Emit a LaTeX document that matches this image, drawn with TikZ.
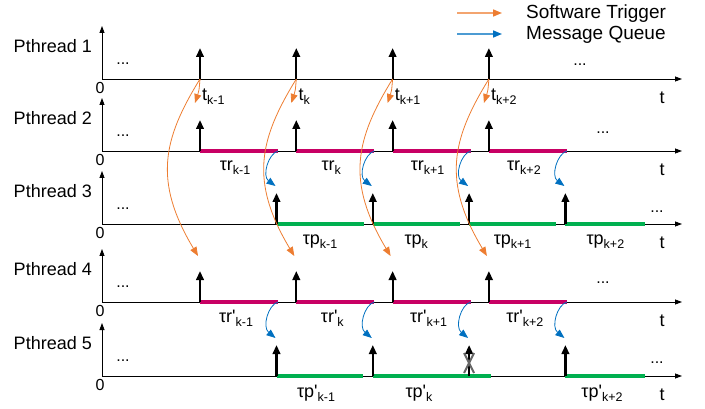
\documentclass[tikz,border=0pt]{standalone}
\usepackage{fontspec}
\setmainfont{Liberation Sans}
\usetikzlibrary{arrows.meta,calc}

\definecolor{trig}{RGB}{237,125,49}
\definecolor{queue}{RGB}{0,112,192}
\definecolor{recv}{RGB}{200,0,100}
\definecolor{proc}{RGB}{0,176,80}

\newcommand\lowidx[1]{\raisebox{-0.45ex}{\fontsize{12.5}{12.5}\selectfont #1}}

\tikzset{
	axis/.style={-{Triangle[length=7pt,width=5pt]}, line width=0.8pt},
	impulse/.style={-{Triangle[length=9pt,width=7.5pt]}, line width=2.2pt},
	trigger/.style={trig, line width=0.8pt, -{Triangle[length=9pt,width=7pt]}},
	mqueue/.style={queue, line width=0.8pt, -{Triangle[length=9pt,width=7pt]}},
	rbar/.style={recv, line width=3.5pt},
	pbar/.style={proc, line width=4pt},
	lbl/.style={inner sep=0pt, font=\fontsize{18}{20}\selectfont},
	sublbl/.style={inner sep=0pt, font=\fontsize{18}{20}\selectfont},
	dots/.style={inner sep=0pt, font=\fontsize{16}{18}\selectfont},
	xmark/.style={black!60, line width=2pt}
}

\begin{document}
\begin{tikzpicture}[x=1pt, y=-1pt]
	\useasboundingbox (0,0) rectangle (705,409);

	% legend
	\coordinate (l1) at (457,13);
	\coordinate (l2) at (502,13);
	\coordinate (l3) at (457,34);
	\coordinate (l4) at (502,34);
	\draw[trigger, trig!70, line width=1.6pt, -{Triangle[length=9pt,width=7pt,color=trig]}] (l1) -- (l2);
	\draw[mqueue, queue!70, line width=1.6pt, -{Triangle[length=9pt,width=7pt,color=queue]}] (l3) -- (l4);
	\node[lbl, font=\fontsize{19}{20}\selectfont, anchor=west] at (526,14) (leg1) {Software Trigger};
	\node[lbl, font=\fontsize{19}{20}\selectfont, anchor=west] at (526,35) (leg2) {Message Queue};

	% axes
	\foreach \n/\y in {1/79,2/151,3/224,4/302,5/376} {
		\coordinate (O\n) at (102,\y);
		\coordinate (X\n) at (682,\y);
		\coordinate (Y\n) at (102,\y-53);
		\draw[axis] (O\n) -- (X\n);
		\draw[axis] (O\n) -- (Y\n);
		\node[lbl, anchor=east] at (92,\y-33) (name\n) {Pthread \n};
		\node[lbl, font=\fontsize{16}{18}\selectfont, anchor=north] at (100,\y+3) (zero\n) {0};
		\node[lbl] at (662,\y+19) (t\n) {t};
		\node[dots] at (123,\y-15) (dl\n) {...};
	}
	\foreach \n/\x/\y in {1/580/65,2/603/133,3/657/212,4/603/283,5/657/363}
		\node[dots] at (\x,\y) (dr\n) {...};

	\foreach \i/\s/\pl in {0/{k-1}/87,1/k/87,2/{k+1}/87,3/{k+2}/80} {
		\pgfmathsetmacro\xa{200+96.3*\i}
		\pgfmathsetmacro\xb{276.5+96.3*\i}
		% Pthread 1
		\coordinate (A1-\i) at (\xa,79);
		\draw[impulse] (A1-\i) -- ++(0,-31);
		\node[lbl, anchor=west] at (\xa+2,97) (tl-\i) {t\lowidx{\s}};
		% Pthread 2
		\coordinate (A2-\i) at (\xa,151);
		\draw[rbar] (A2-\i) -- ++(78,0) coordinate (R2-\i);
		\draw[impulse] (A2-\i) -- ++(0,-31);
		\node[sublbl] at (\xa+35,168) (tr-\i) {τr\lowidx{\s}};
		% Pthread 3
		\coordinate (A3-\i) at (\xb,224);
		\draw[pbar] (A3-\i) -- ++(\pl,0);
		\draw[impulse] (A3-\i) -- ++(0,-31);
		\node[sublbl] at (\xb+\pl/2,242) (tp-\i) {τp\lowidx{\s}};
		% Pthread 4
		\coordinate (A4-\i) at (\xa,302);
		\draw[rbar] (A4-\i) -- ++(78,0) coordinate (R4-\i);
		\draw[impulse] (A4-\i) -- ++(0,-31);
		\node[sublbl] at (\xa+36,318) (trr-\i) {τr\textquotesingle\lowidx{\s}};
		% Pthread 5
		\coordinate (A5-\i) at (\xb,376);
		% triggers
		\coordinate (g1-\i) at (\xa-5,103);
		\coordinate (g4-\i) at (\xa-2,256);
		\draw[trigger] (A1-\i) .. controls ($(A1-\i)+(-1,12)$) .. (g1-\i);
		\draw[trigger] (A1-\i) .. controls ($(A1-\i)+(-37,60)$) and ($(A1-\i)+(-47,102)$) .. (g4-\i);
		% queues
		\coordinate (q3-\i) at (\xb-1,186);
		\coordinate (q5-\i) at (\xb-1,338);
		\draw[mqueue] (R2-\i) .. controls ($(R2-\i)+(-10,3)$) and ($(R2-\i)+(-16,25)$) .. (q3-\i);
		\draw[mqueue] (R4-\i) .. controls ($(R4-\i)+(-10,3)$) and ($(R4-\i)+(-16,25)$) .. (q5-\i);
	}

	% Pthread 5 bars
	\draw[pbar] (A5-0) -- ++(86,0);
	\draw[pbar] (A5-1) -- ++(118,0);
	\draw[pbar] (A5-3) -- ++(80,0);
	\foreach \i in {0,1,2,3}
		\draw[impulse] (A5-\i) -- ++(0,-31);
	\node[sublbl] at (316,393) (tpp-0) {τp\textquotesingle\lowidx{k-1}};
	\node[sublbl] at (419,393) (tpp-1) {τp\textquotesingle\lowidx{k}};
	\node[sublbl] at (602,393) (tpp-3) {τp\textquotesingle\lowidx{k+2}};

	% dropped one
	\draw[xmark] ($(A5-2)+(-5,-23)$) -- ($(A5-2)+(5,-3)$);
	\draw[xmark] ($(A5-2)+(5,-23)$) -- ($(A5-2)+(-5,-3)$);

\end{tikzpicture}
\end{document}
